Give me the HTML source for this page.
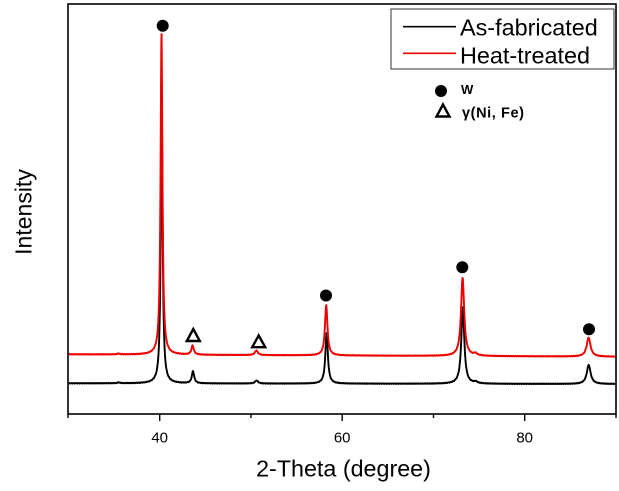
<!DOCTYPE html>
<html><head><meta charset="utf-8"><style>
html,body{margin:0;padding:0;background:#fff;}
svg{display:block;font-family:"Liberation Sans",Arial,sans-serif;}
</style></head><body>
<svg id="s" width="619" height="491" viewBox="0 0 619 491" xmlns="http://www.w3.org/2000/svg">
<rect x="0" y="0" width="619" height="491" fill="#fff"/>
<path id="blk" d="" fill="none" stroke="#000" stroke-width="1.9" stroke-linejoin="round"/>
<path id="red" d="" fill="none" stroke="#ee0000" stroke-width="1.9" stroke-linejoin="round"/>
<rect x="68" y="4" width="548" height="410" fill="none" stroke="#000" stroke-width="1.6"/>
<g stroke="#000" stroke-width="1.4">
<line x1="159.7" y1="414" x2="159.7" y2="421"/>
<line x1="342.2" y1="414" x2="342.2" y2="421"/>
<line x1="524.7" y1="414" x2="524.7" y2="421"/>
<line x1="251" y1="414" x2="251" y2="418"/>
<line x1="433.5" y1="414" x2="433.5" y2="418"/>
<line x1="68" y1="414" x2="68" y2="418"/>
<line x1="616" y1="414" x2="616" y2="418"/>
</g>
<g font-size="15" fill="#000" text-anchor="middle">
<text x="159.7" y="442.5">40</text>
<text x="342.2" y="442.5">60</text>
<text x="524.7" y="442.5">80</text>
</g>
<text x="343.5" y="476.7" font-size="23.3" text-anchor="middle">2-Theta (degree)</text>
<text transform="translate(31.7,212) rotate(-90)" font-size="23" text-anchor="middle">Intensity</text>
<rect x="391" y="9" width="223" height="60" fill="#fff" stroke="#333" stroke-width="1"/>
<line x1="403" y1="26.7" x2="456" y2="26.7" stroke="#000" stroke-width="1.6"/>
<line x1="403" y1="53.3" x2="456" y2="53.3" stroke="#ee0000" stroke-width="1.6"/>
<text x="460" y="35.5" font-size="23.4">As-fabricated</text>
<text x="460" y="63.3" font-size="23.4">Heat-treated</text>
<circle cx="441" cy="91" r="6" fill="#000"/>
<text x="461" y="94" font-size="13" font-weight="bold">W</text>
<polygon points="443,104.5 436.5,116.5 449.5,116.5" fill="none" stroke="#000" stroke-width="2.4"/>
<text x="462" y="117.5" font-size="14.5" font-weight="bold" letter-spacing="0.6">γ(Ni, Fe)</text>
<circle cx="162.7" cy="25.7" r="6" fill="#000"/>
<circle cx="326" cy="295.5" r="6" fill="#000"/>
<circle cx="462.3" cy="267.3" r="6" fill="#000"/>
<circle cx="589" cy="329.3" r="6" fill="#000"/>
<polygon points="193.3,329 186.8,341 199.8,341" fill="none" stroke="#000" stroke-width="2.4"/>
<polygon points="258.7,335.5 252.2,347.2 265.2,347.2" fill="none" stroke="#000" stroke-width="2.4"/>
</svg>
<script>
(function(){
function build(b0,b1,peaks,seed){
  var d="",first=true;
  for(var px=68.8;px<=615.2;px+=0.25){
    var y=b0+(b1-b0)*(px-68)/548;
    for(var i=0;i<peaks.length;i++){
      var p=peaks[i],dx=px-p[0];
      y-=p[1]*p[2]*p[2]/(dx*dx+p[2]*p[2]);
    }
    y+=0.2*Math.sin(px*2.7+seed)+0.15*Math.sin(px*5.3+seed*2);
    d+=(first?"M":"L")+px.toFixed(2)+","+y.toFixed(2);
    first=false;
  }
  return d;
}
var red=[[161.5,321,1.1],[192.6,9,1.4],[256.4,4.5,1.8],[326.2,50.5,1.5],[462.6,78,1.9],[588.6,19,2.3],[475.5,2,2],[118.6,0.8,1.5]];
var blk=[[161.7,280,1.1],[193.0,12,1.4],[256.6,3,1.8],[326.6,50.5,1.5],[462.8,76.5,1.8],[588.7,19,2.3],[475.7,1.5,2],[118.6,0.8,1.5]];
document.getElementById("red").setAttribute("d",build(354.3,356.7,red,1.3));
document.getElementById("blk").setAttribute("d",build(383.3,384.0,blk,0.4));
})();
</script>
</body></html>
